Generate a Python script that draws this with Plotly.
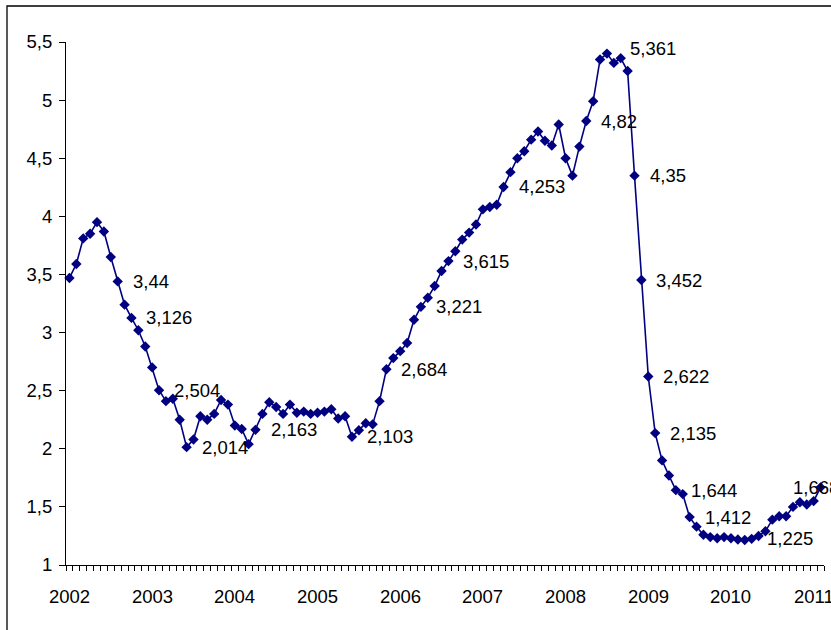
import plotly.graph_objects as go

# Monthly values, Jan 2002 .. Feb 2011
values = [
    3.47, 3.59, 3.81, 3.85, 3.95, 3.87, 3.65, 3.44, 3.24, 3.126, 3.02, 2.88,
    2.70, 2.504, 2.41, 2.43, 2.25, 2.014, 2.08, 2.28, 2.25, 2.30, 2.42, 2.38,
    2.20, 2.17, 2.04, 2.163, 2.30, 2.40, 2.36, 2.30, 2.38, 2.31, 2.32, 2.30,
    2.31, 2.32, 2.34, 2.26, 2.28, 2.103, 2.16, 2.22, 2.21, 2.41, 2.684, 2.78,
    2.84, 2.91, 3.11, 3.221, 3.30, 3.40, 3.53, 3.615, 3.70, 3.80, 3.86, 3.93,
    4.06, 4.08, 4.10, 4.253, 4.38, 4.50, 4.56, 4.66, 4.73, 4.65, 4.61, 4.79,
    4.50, 4.35, 4.60, 4.82, 4.99, 5.35, 5.40, 5.32, 5.361, 5.25, 4.35, 3.452,
    2.622, 2.135, 1.90, 1.77, 1.644, 1.61, 1.412, 1.33, 1.26, 1.24, 1.23, 1.24,
    1.23, 1.22, 1.215, 1.225, 1.25, 1.29, 1.39, 1.42, 1.42, 1.50, 1.54, 1.52,
    1.55, 1.668,
]
labeled_points = [7, 9, 13, 17, 27, 41, 46, 51, 55, 63, 75, 80, 82, 83, 84, 85, 88, 90, 99, 109]
year_labels = ["2002", "2003", "2004", "2005", "2006", "2007", "2008", "2009", "2010", "2011"]
y_tick_values = [1, 1.5, 2, 2.5, 3, 3.5, 4, 4.5, 5, 5.5]
y_tick_labels = ["1", "1,5", "2", "2,5", "3", "3,5", "4", "4,5", "5", "5,5"]

x = list(range(len(values)))
year_pos = [12 * k for k in range(len(year_labels))]

NAVY = "#000080"
FONT = dict(family="Liberation Sans, Arial, sans-serif", size=18.5, color="black")

fig = go.Figure()

fig.add_trace(go.Scatter(
    x=x, y=values, mode="lines+markers",
    line=dict(color=NAVY, width=1.6),
    marker=dict(symbol="diamond", size=8, color=NAVY),
    cliponaxis=False, showlegend=False, hoverinfo="skip",
))

# data labels
special = {80: dict(xshift=7, yshift=10), 109: dict(xshift=-30, yshift=0)}
for i in labeled_points:
    v = values[i]
    txt = f"{v:g}".replace(".", ",")
    off = special.get(i, dict(xshift=13, yshift=0))
    fig.add_annotation(x=i, y=v, text=txt, showarrow=False, xanchor="left",
                       yanchor="middle", xshift=off["xshift"], yshift=off["yshift"],
                       font=FONT)

# year labels under the category axis (last one is cropped at the edge, as in the reference)
for pos, lab in zip(year_pos, year_labels):
    fig.add_annotation(x=pos, y=0, xref="x", yref="paper", text=lab, showarrow=False,
                       xanchor="center", yanchor="middle", yshift=-31, font=FONT)

# outer chart border (partially cropped in the reference)
fig.add_shape(type="rect", xref="paper", yref="paper",
              x0=(7 - 66) / 758, x1=1.05, y0=-0.2, y1=(565 - 6) / 523,
              line=dict(color="black", width=1.3), layer="below")

fig.update_layout(
    width=831, height=630,
    margin=dict(l=66, r=7, t=42, b=65),
    paper_bgcolor="white", plot_bgcolor="white",
    font=FONT,
    xaxis=dict(
        range=[-0.5, len(values) - 0.5], showgrid=False, zeroline=False,
        showline=True, linecolor="black", linewidth=1,
        tickmode="array", tickvals=year_pos, showticklabels=False,
        ticks="", automargin=False,
        minor=dict(ticks="outside", ticklen=5, tickcolor="black", tickwidth=1,
                   tickmode="linear", tick0=-0.5, dtick=1, showgrid=False),
    ),
    yaxis=dict(
        range=[1, 5.5], showgrid=False, zeroline=False,
        showline=True, linecolor="black", linewidth=1,
        tickmode="array", tickvals=y_tick_values, ticktext=y_tick_labels,
        ticks="outside", ticklen=6, tickcolor="black", automargin=False,
        ticklabelstandoff=3, tickfont=FONT,
    ),
)

fig.write_html("out.html")
